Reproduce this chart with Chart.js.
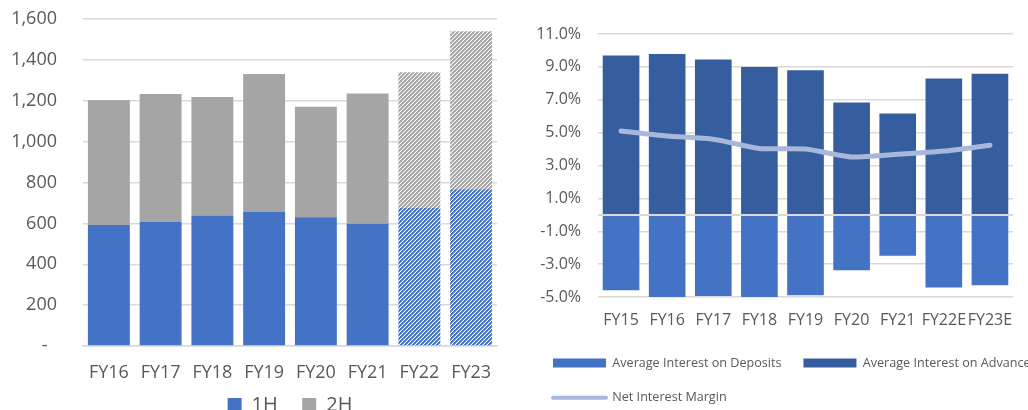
<!DOCTYPE html>
<html>
<head>
<meta charset="utf-8">
<script src="https://cdn.jsdelivr.net/npm/chart.js@4"></script>
<style>
  html, body { margin: 0; padding: 0; background: #fff; overflow: hidden; width: 1028px; height: 410px; }
  #wrap { position: relative; width: 1028px; height: 410px; overflow: hidden; }
  canvas { position: absolute; top: 0; }
  #halfChart { left: 0; }
  #rateChart { left: 520px; }
</style>
</head>
<body>
<div id="wrap">
  <canvas id="halfChart" width="510" height="425"></canvas>
  <canvas id="rateChart" width="560" height="414"></canvas>
</div>
<script>
// Half-year split
const years = ["FY16", "FY17", "FY18", "FY19", "FY20", "FY21", "FY22", "FY23"];
const firstHalf = [592, 608, 638, 656, 630, 598, 675, 767];
const secondHalf = [611, 625, 580, 675, 541, 638, 665, 773];
const forecastFrom = 6; // FY22 onwards are estimates (hatched)

// Interest rates (%)
const rateYears = ["FY15", "FY16", "FY17", "FY18", "FY19", "FY20", "FY21", "FY22E", "FY23E"];
const depositRate = [-4.59, -4.99, -4.93, -5.0, -4.89, -3.37, -2.48, -4.42, -4.28];
const advanceRate = [9.70, 9.78, 9.45, 8.99, 8.79, 6.83, 6.16, 8.30, 8.59];
const netMargin = [5.10, 4.80, 4.60, 4.04, 4.00, 3.52, 3.68, 3.88, 4.24];

const BLUE = "#4472C4";
const GREY = "#A5A5A5";
const NAVY = "#365E9F";
const LAVENDER = "#A9B7DD";
const TEXT = "#595959";
const GRID = "#D9D9D9";
const FONT = "'Open Sans', 'Noto Sans', sans-serif";

// 4x4 tile of upward diagonal stripes, with a soft edge
function stripes(color) {
  const c = document.createElement("canvas");
  c.width = 4; c.height = 4;
  const g = c.getContext("2d");
  g.fillStyle = "#fff";
  g.fillRect(0, 0, 4, 4);
  g.fillStyle = color;
  const alpha = [1, 1, 0.7, 0];
  for (let y = 0; y < 4; y++)
    for (let x = 0; x < 4; x++) {
      g.globalAlpha = alpha[(x + y) % 4];
      g.fillRect(x, y, 1, 1);
    }
  return g.createPattern(c, "repeat");
}

const fillFor = (color, pattern) => years.map((_, i) => i >= forecastFrom ? pattern : color);

new Chart(document.getElementById("halfChart"), {
  type: "bar",
  data: {
    labels: years,
    datasets: [
      { label: "1H", data: firstHalf, backgroundColor: fillFor(BLUE, stripes(BLUE)) },
      { label: "2H", data: secondHalf, backgroundColor: fillFor(GREY, stripes(GREY)) }
    ]
  },
  options: {
    responsive: false,
    animation: false,
    layout: { padding: { left: 11, right: 13, top: 19, bottom: 0 } },
    datasets: { bar: { barPercentage: 0.81, categoryPercentage: 1, borderWidth: 0 } },
    plugins: {
      tooltip: { enabled: false },
      legend: {
        position: "bottom",
        fullSize: false,
        labels: {
          color: TEXT,
          font: { family: FONT, size: 20 },
          boxWidth: 14,
          boxHeight: 14,
          padding: 14,
          generateLabels: chart => Chart.defaults.plugins.legend.labels.generateLabels(chart)
            .map(item => ({
              ...item,
              text: item.datasetIndex === 0 ? item.text + "  " : item.text,
              fillStyle: [BLUE, GREY][item.datasetIndex],
              lineWidth: 0
            }))
        }
      }
    },
    scales: {
      x: {
        stacked: true,
        grid: { display: false, drawTicks: false },
        border: { display: true, color: GRID, width: 1.5 },
        ticks: { color: TEXT, font: { family: FONT, size: 18, lineHeight: 1 }, padding: 18 },
        afterFit: s => { s.height = 35; }
      },
      y: {
        stacked: true,
        min: 0,
        max: 1600,
        ticks: {
          stepSize: 200,
          color: TEXT,
          font: { family: FONT, size: 18 },
          padding: 8,
          callback: v => v === 0 ? "-  " : v.toLocaleString("en-US")
        },
        grid: { color: GRID, lineWidth: 1.5, drawTicks: true, tickLength: 18, tickColor: "rgba(0,0,0,0)" },
        border: { display: false },
        afterFit: s => { s.width = 72; }
      }
    }
  }
});

// light axis line across the bars at 0%
const zeroLine = {
  id: "zeroLine",
  afterDatasetsDraw(chart) {
    const { ctx, chartArea, scales } = chart;
    const y = scales.y.getPixelForValue(0);
    ctx.save();
    ctx.strokeStyle = GRID;
    ctx.lineWidth = 2;
    ctx.beginPath();
    ctx.moveTo(chartArea.left, y);
    ctx.lineTo(chartArea.right, y);
    ctx.stroke();
    ctx.restore();
  }
};

new Chart(document.getElementById("rateChart"), {
  type: "bar",
  data: {
    labels: rateYears,
    datasets: [
      { label: "Average Interest on Deposits", data: depositRate, backgroundColor: BLUE, stack: "rates", order: 1 },
      { label: "Average Interest on Advances", data: advanceRate, backgroundColor: NAVY, stack: "rates", order: 1 },
      {
        type: "line",
        label: "Net Interest Margin",
        data: netMargin,
        borderColor: LAVENDER,
        backgroundColor: LAVENDER,
        borderWidth: 5,
        borderCapStyle: "round",
        tension: 0.2,
        pointRadius: 0,
        stack: "nim",
        order: 0
      }
    ]
  },
  options: {
    responsive: false,
    animation: false,
    layout: { padding: { left: 11, right: 0, top: 34, bottom: 0 } },
    datasets: { bar: { barPercentage: 0.795, categoryPercentage: 1, borderWidth: 0 } },
    plugins: {
      tooltip: { enabled: false },
      legend: {
        position: "bottom",
        align: "start",
        labels: {
          color: TEXT,
          font: { family: FONT, size: 12.6 },
          usePointStyle: true,
          pointStyleWidth: 53,
          boxHeight: 9,
          padding: 22,
          generateLabels: chart => Chart.defaults.plugins.legend.labels.generateLabels(chart)
            .sort((a, b) => a.datasetIndex - b.datasetIndex)
            .map(item => item.datasetIndex === 2
              ? { ...item, pointStyle: "line", strokeStyle: LAVENDER, lineWidth: 4, lineCap: "round" }
              : { ...item, pointStyle: "rect", lineWidth: 0 })
        }
      }
    },
    scales: {
      x: {
        stacked: true,
        grid: { display: false, drawTicks: false },
        border: { display: false },
        ticks: { color: TEXT, font: { family: FONT, size: 16 }, padding: 14, maxRotation: 0, autoSkip: false },
        afterFit: s => { s.height = 37.7; }
      },
      y: {
        stacked: true,
        min: -5,
        max: 11,
        ticks: {
          stepSize: 2,
          color: TEXT,
          font: { family: FONT, size: 16 },
          padding: 17,
          callback: v => v.toFixed(1) + "%"
        },
        grid: { color: GRID, lineWidth: 1.5, drawTicks: false },
        border: { display: false },
        afterFit: s => { s.width = 67; }
      },
      // empty right-hand axis, only reserves space so the legend can stay wide
      spare: {
        position: "right",
        display: true,
        grid: { display: false, drawTicks: false },
        border: { display: false },
        ticks: { display: false },
        afterFit: s => { s.width = 67; }
      }
    }
  },
  plugins: [zeroLine]
});
</script>
</body>
</html>
